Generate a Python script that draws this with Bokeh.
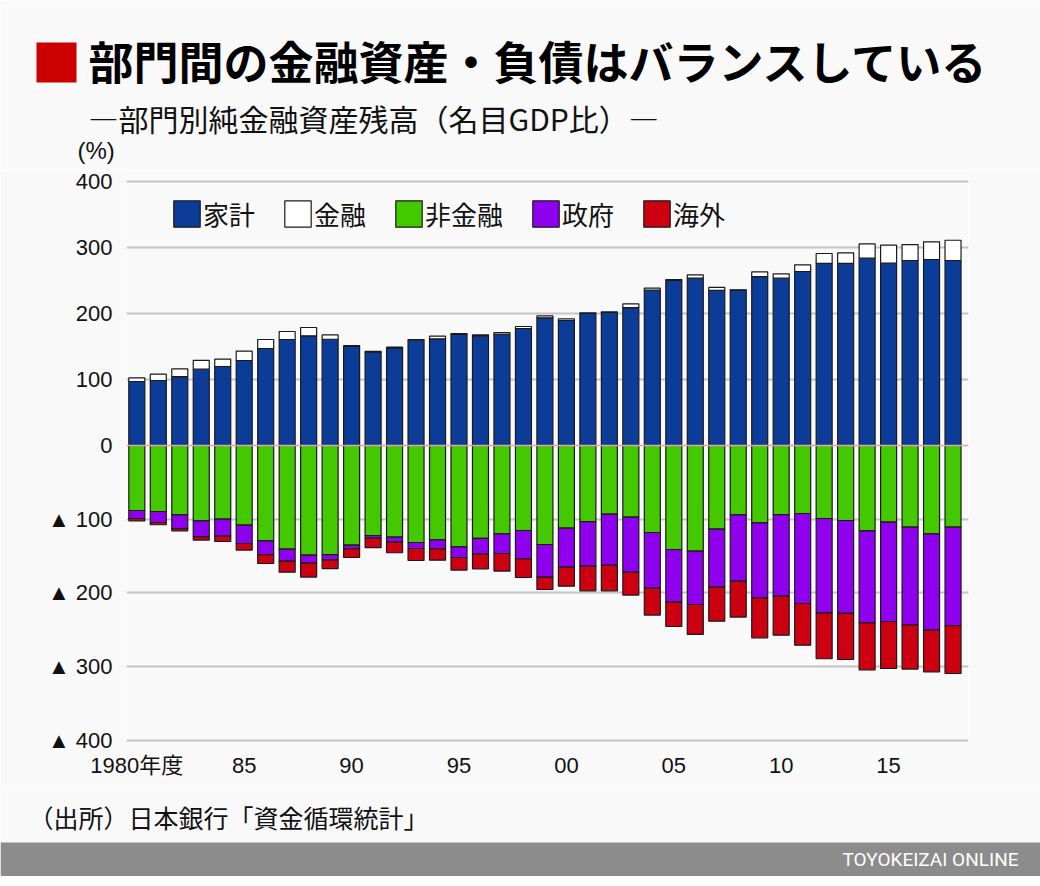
from bokeh.plotting import figure
from bokeh.models import Range1d, FixedTicker, Legend, LegendItem, Span, ColumnDataSource
from bokeh.layouts import column
from bokeh.embed import file_html
from bokeh.resources import INLINE
from bokeh.core.properties import value

# ---------------- data (net financial assets, % of nominal GDP) ----------------
years = list(range(1980, 2019))
household = [97.0, 98.5, 104.5, 115.6, 119.7, 128.8, 147.0, 160.6, 166.2, 161.0,
             150.0, 141.5, 148.0, 159.5, 161.6, 168.5, 165.6, 168.7, 177.3, 193.5,
             189.4, 200.0, 201.5, 209.0, 235.4, 250.0, 253.5, 235.0, 235.5, 256.0,
             253.5, 263.6, 275.8, 275.8, 283.8, 276.3, 280.3, 281.8, 280.3]
financial = [5.5, 9.5, 11.5, 13.4, 11.1, 14.1, 13.6, 12.1, 12.6, 6.7,
             1.5, 1.0, 1.0, 1.0, 4.0, 1.2, 2.1, 2.5, 3.0, 3.0,
             2.6, 1.0, 1.0, 5.7, 3.0, 1.5, 5.1, 4.6, 0.3, 7.1,
             6.6, 10.2, 15.1, 16.2, 21.8, 27.2, 24.2, 26.8, 30.7]
nonfinancial = [-88.2, -89.6, -94.1, -102.2, -99.9, -108.0, -129.4, -140.6, -148.8, -148.0,
                -135.2, -122.2, -124.3, -131.7, -128.0, -137.5, -126.2, -119.9, -115.4, -134.4,
                -112.1, -103.2, -93.1, -97.2, -118.1, -141.2, -143.4, -113.5, -94.1, -104.9,
                -93.7, -92.3, -99.1, -101.8, -115.8, -104.0, -110.8, -119.9, -110.8]
government = [-10.9, -14.9, -18.6, -21.7, -23.1, -25.0, -18.6, -16.4, -10.8, -7.2,
              -5.0, -3.5, -6.8, -8.1, -12.2, -14.5, -21.2, -26.7, -38.4, -44.2,
              -53.0, -60.5, -69.3, -74.7, -75.5, -71.4, -72.4, -78.7, -90.0, -101.8,
              -110.7, -122.2, -128.0, -126.2, -124.9, -134.9, -132.6, -130.7, -133.9]
overseas = [-3.1, -3.1, -3.1, -4.5, -7.3, -9.0, -12.2, -14.9, -19.0, -11.8,
            -11.8, -12.8, -14.5, -16.3, -15.4, -17.1, -20.0, -23.9, -25.4, -16.9,
            -25.8, -33.5, -34.8, -31.2, -36.6, -33.1, -40.7, -46.2, -48.8, -54.3,
            -53.0, -56.5, -62.4, -62.5, -63.8, -63.8, -60.1, -56.6, -64.8]

series_labels = ["家計", "金融", "非金融", "政府", "海外"]
series_colors = ["#0b3d98", "#ffffff", "#44c800", "#8f00ee", "#cc0010"]

pos_ticks = [0, 100, 200, 300, 400]
pos_tick_labels = ["0", "100", "200", "300", "400"]
neg_ticks = [-100, -200, -300, -400]
neg_tick_labels = ["▲ 100", "▲ 200", "▲ 300", "▲ 400"]
x_ticks = [1980, 1985, 1990, 1995, 2000, 2005, 2010, 2015]
x_tick_labels = ["1980年度", "85", "90", "95", "00", "05", "10", "15"]

TITLE = "部門間の金融資産・負債はバランスしている"
SUBTITLE = "―部門別純金融資産残高（名目GDP比）―"
UNIT = "(%)"
SOURCE = "（出所）日本銀行「資金循環統計」"
BRAND = "TOYOKEIZAI ONLINE"

# ---------------- styling / geometry ----------------
BG = "#f9f9f9"
JP = "Noto Sans CJK JP"
NUM = "Liberation Sans, Noto Sans CJK JP"
W = 1040
EDGE = "#1a1a1a"
GRID = "#c4c4c4"

# the source chart uses a taller scale below zero than above it
UP_PX = 0.66      # pixels per percentage point above zero
LOW_PX = 0.7367   # pixels per percentage point below zero
ABOVE0 = 275      # frame pixels above the zero line
BELOW0 = 298      # frame pixels below the zero line
RATIO = LOW_PX / UP_PX

src = ColumnDataSource(dict(year=years, household=household, financial=financial,
                            nonfinancial=nonfinancial, government=government,
                            overseas=overseas))


def base_fig(**kw):
    f = figure(output_backend="svg", toolbar_location=None, **kw)
    f.background_fill_color = BG
    f.border_fill_color = BG
    f.outline_line_color = None
    return f


# ---------------- header ----------------
HH = 170
hdr = base_fig(width=W, height=HH, x_range=Range1d(0, W), y_range=Range1d(HH, 0),
               min_border=0, x_axis_location=None, y_axis_location=None)
hdr.grid.visible = False
hdr.quad(left=[36], right=[76], top=[42], bottom=[82], fill_color="#cc0000", line_color=None)
hdr.text(x=[88], y=[60], text=[TITLE], text_font=value(JP), text_font_style="bold",
         text_font_size="45px", text_baseline="middle", text_color="#000000")
hdr.text(x=[88], y=[117], text=[SUBTITLE], text_font=value(JP),
         text_font_size="30px", text_baseline="middle", text_color="#111111")
hdr.text(x=[77], y=[150], text=[UNIT], text_font=value("Liberation Sans"),
         text_font_size="24px", text_baseline="middle", text_color="#111111")

# ---------------- main chart ----------------
PH = 620
p = base_fig(width=W, height=PH, x_range=Range1d(1979.52, 2018.72),
             y_range=Range1d(-BELOW0 / UP_PX, ABOVE0 / UP_PX),
             min_border_left=126, min_border_right=72, min_border_top=0,
             min_border_bottom=47)
p.extra_y_ranges = {"neg": Range1d(-BELOW0 / LOW_PX, ABOVE0 / LOW_PX)}

r_pos = p.vbar_stack(["household", "financial"], x="year", width=0.745, source=src,
                     fill_color=series_colors[:2], line_color=EDGE, line_width=1.2)
r_neg = p.vbar_stack(["nonfinancial", "government", "overseas"], x="year", width=0.745,
                     source=src, fill_color=series_colors[2:], line_color=EDGE,
                     line_width=1.2, y_range_name="neg")

# tick positions on the main (upper-scale) range; negative ticks rescaled
all_ticks = pos_ticks + [t * RATIO for t in neg_ticks]
all_labels = pos_tick_labels + neg_tick_labels

p.xgrid.visible = False
p.ygrid.ticker = FixedTicker(ticks=all_ticks[1:])
p.ygrid.grid_line_color = GRID
p.ygrid.grid_line_width = 2
p.add_layout(Span(location=0, dimension="width", line_color="#e2a4ac", line_width=1.5))

ya = p.yaxis[0]
ya.ticker = FixedTicker(ticks=all_ticks)
ya.major_label_overrides = {t: l for t, l in zip(all_ticks, all_labels)}
xa = p.xaxis[0]
xa.ticker = FixedTicker(ticks=x_ticks)
xa.major_label_overrides = {t: l for t, l in zip(x_ticks, x_tick_labels)}
for ax in [ya, xa]:
    ax.axis_line_color = None
    ax.major_tick_line_color = None
    ax.minor_tick_line_color = None
    ax.major_tick_out = 0
    ax.major_tick_in = 0
    ax.major_label_text_font = NUM
    ax.major_label_text_font_size = "22px"
    ax.major_label_text_color = "#111111"
ya.major_label_standoff = 14
xa.major_label_standoff = 9

legend = Legend(items=[LegendItem(label=lab, renderers=[r])
                       for lab, r in zip(series_labels, list(r_pos) + list(r_neg))],
                location=(44, BELOW0 + 213), orientation="horizontal", padding=0, margin=0,
                spacing=26, glyph_width=33, glyph_height=33, label_standoff=0,
                background_fill_alpha=0, border_line_color=None,
                label_text_font=JP, label_text_font_size="26px",
                label_text_color="#111111")
p.add_layout(legend)

# ---------------- footer ----------------
FH = 86
ftr = base_fig(width=W, height=FH, x_range=Range1d(0, W), y_range=Range1d(FH, 0),
               min_border=0, x_axis_location=None, y_axis_location=None)
ftr.grid.visible = False
ftr.text(x=[28], y=[26], text=[SOURCE], text_font=value(JP), text_font_size="25px",
         text_baseline="middle", text_color="#111111")
ftr.quad(left=[0], right=[W], top=[52], bottom=[86], fill_color="#8c8c8c", line_color=None)
ftr.text(x=[1018], y=[69], text=[BRAND], text_font=value("Roboto"), text_font_size="19px",
         text_align="right", text_baseline="middle", text_color="#ffffff")

layout = column(hdr, column(p), ftr, spacing=0)
open("out.html", "w").write(file_html(layout, INLINE))
